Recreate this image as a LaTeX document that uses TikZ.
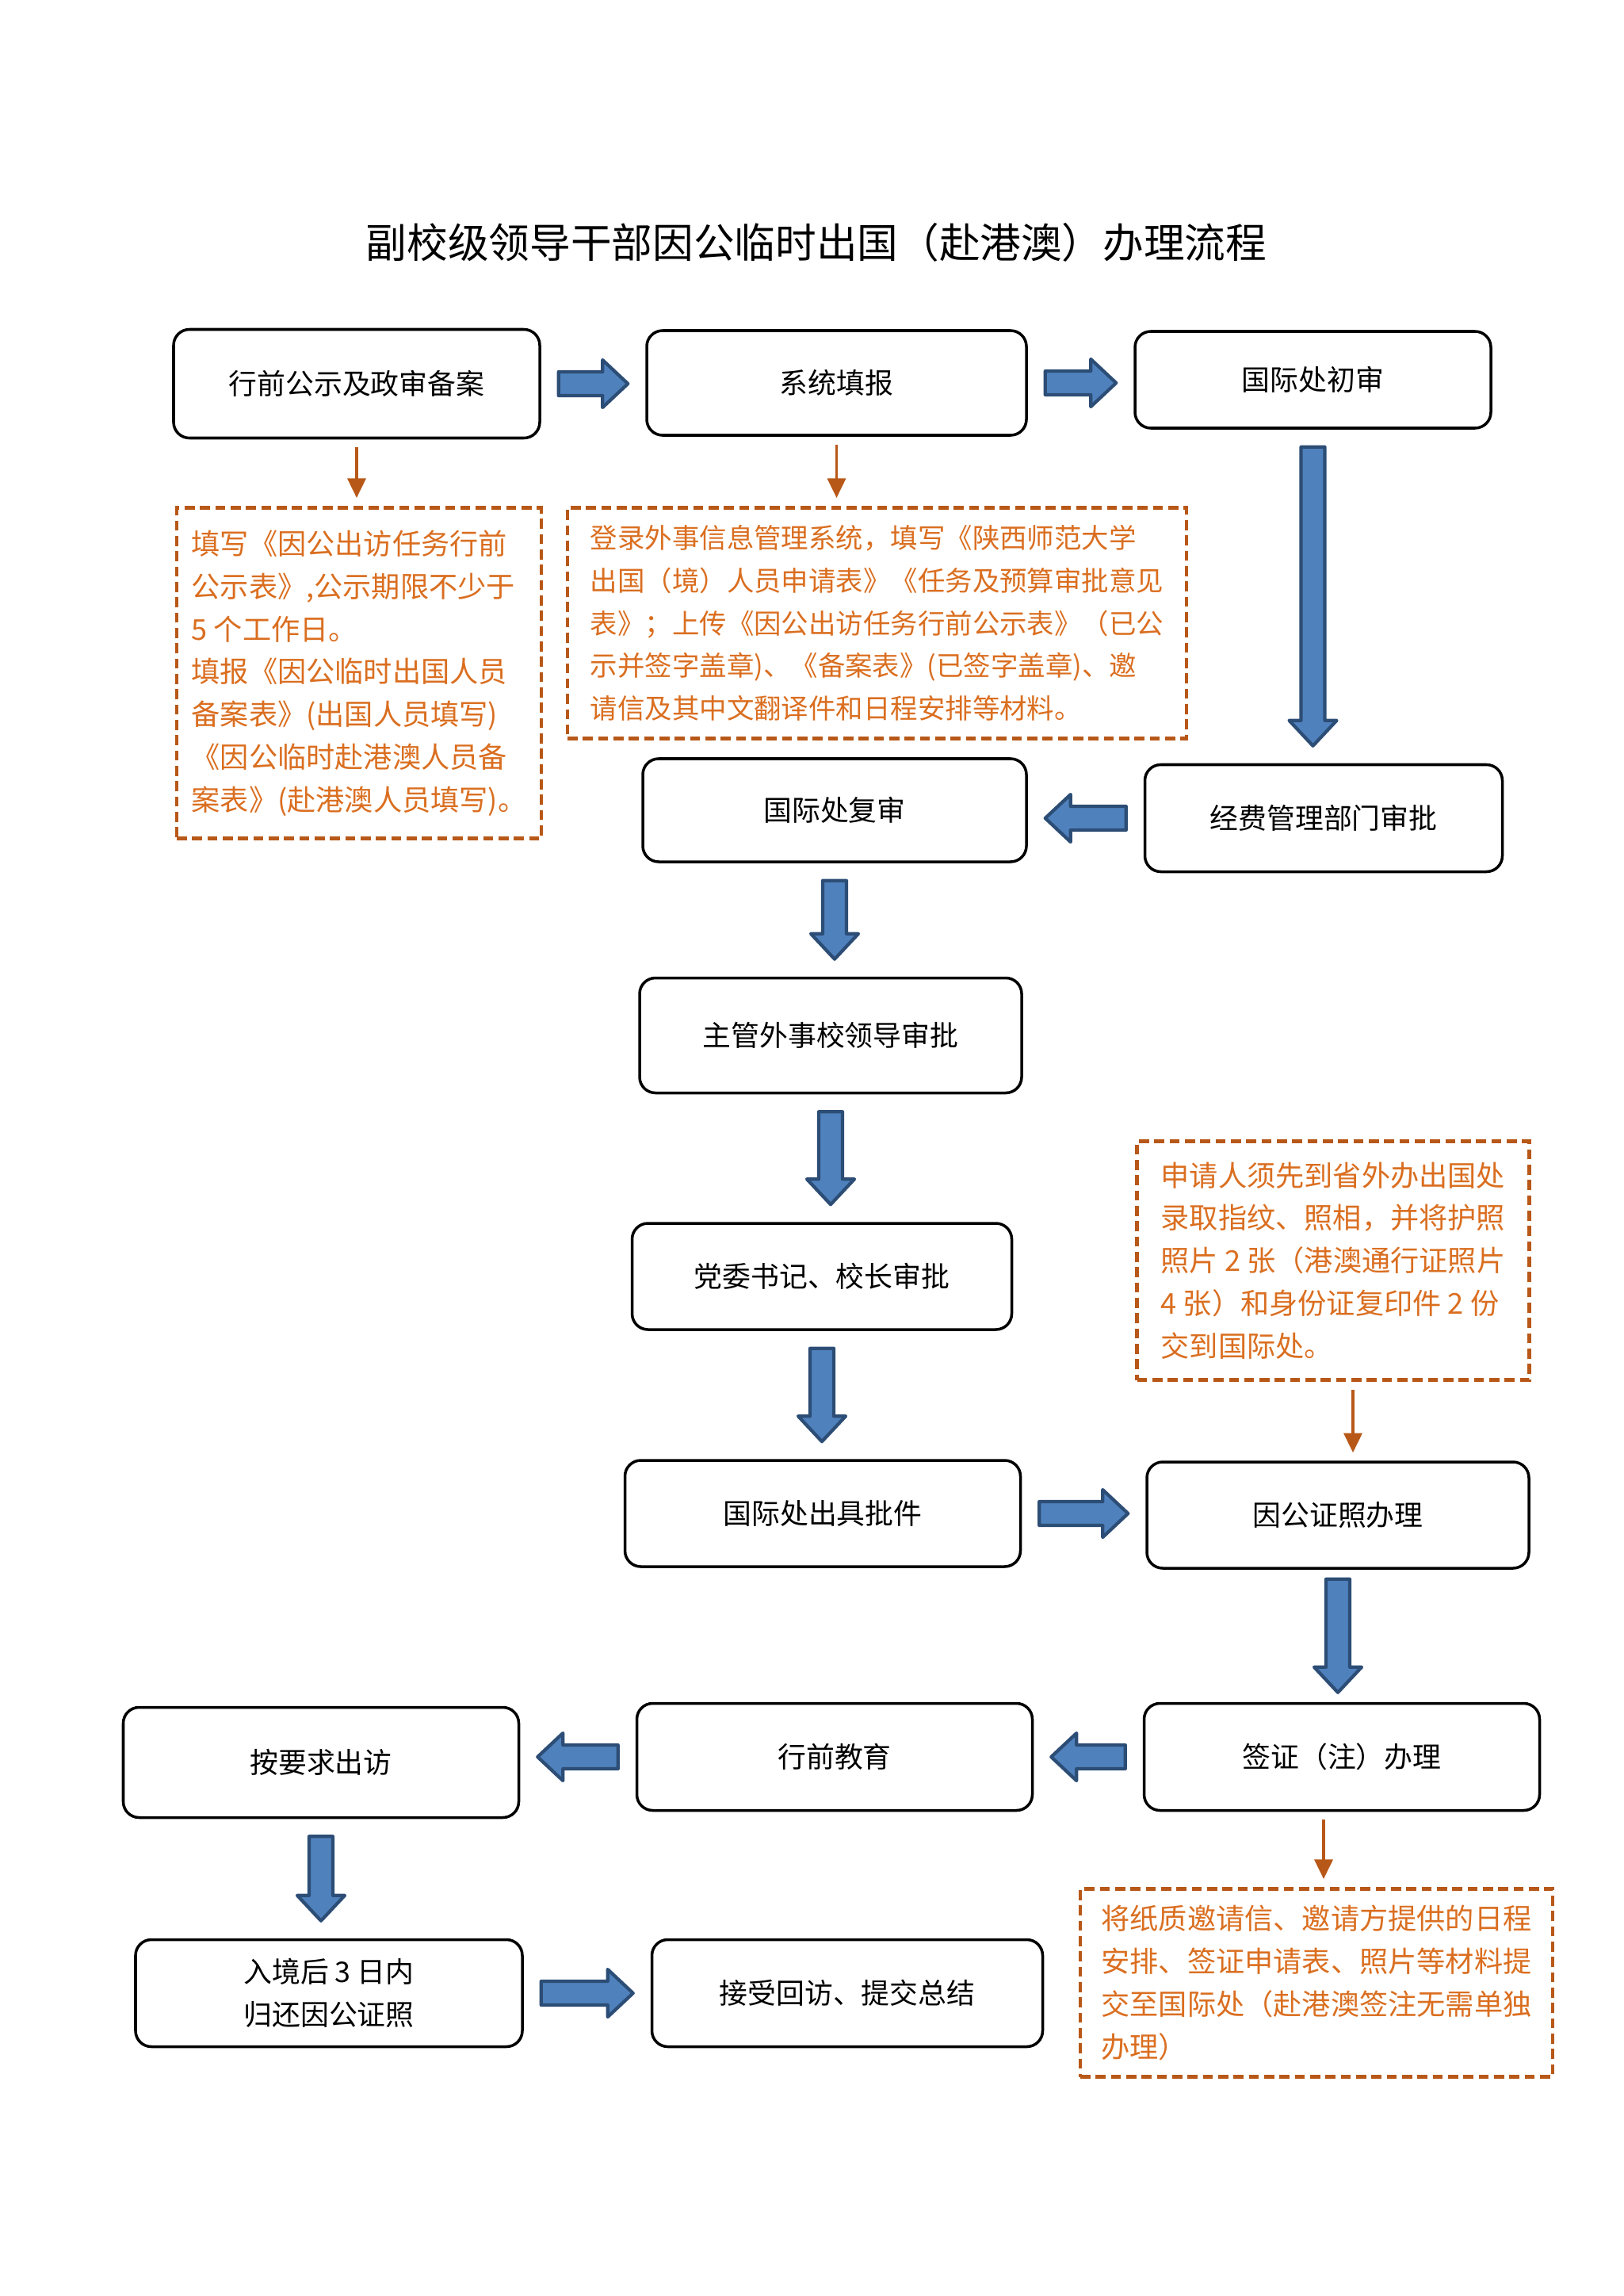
\documentclass[tikz,border=0pt]{standalone}
\usepackage{fontspec}
\setmainfont{Noto Sans CJK SC}
\usetikzlibrary{calc,arrows.meta}

\definecolor{arrowfill}{RGB}{79,129,189}
\definecolor{arrowline}{RGB}{44,77,117}
\definecolor{notetext}{RGB}{218,110,32}
\definecolor{noteline}{RGB}{184,88,24}

\newcommand{\bigarrow}[3][2.2mm]{%
  \coordinate (ba a) at #2;
  \coordinate (ba z) at #3;
  \coordinate (ba s) at ($(ba a)!#1!(ba z)$);
  \coordinate (ba e) at ($(ba z)!#1!(ba a)$);
  \coordinate (ba b) at ($(ba e)!3.2mm!(ba s)$);
  \draw [blockarrow] ($(ba s)!1.5mm!90:(ba e)$) -- ($(ba b)!1.5mm!90:(ba e)$)
    -- ($(ba b)!3mm!90:(ba e)$) -- (ba e) -- ($(ba b)!3mm!-90:(ba e)$)
    -- ($(ba b)!1.5mm!-90:(ba e)$) -- ($(ba s)!1.5mm!-90:(ba e)$) -- cycle;
}

\begin{document}
\begin{tikzpicture}
\tikzstyle{every node}+=[inner sep=0pt]
\tikzstyle{box}=[draw=black, line width=1pt, rounded corners=0.2cm, align=center, font=\fontsize{10.2}{15.3}\selectfont]
\tikzstyle{note}=[draw=noteline, line width=1.4pt, dash pattern=on 3.6pt off 1.9pt, text=notetext, align=left, font=\fontsize{10.3}{15.3}\selectfont]
\tikzstyle{blockarrow}=[fill=arrowfill, draw=arrowline, line width=1.2pt, line join=round]
\tikzstyle{notearrow}=[draw=noteline, line width=1.1pt, -{Triangle[length=7pt,width=6.5pt]}, shorten <=1mm, shorten >=1mm]
\useasboundingbox (0,0) rectangle (20.48,-28.96);

\node [font=\fontsize{14.7}{18}\selectfont] (title) at (10.30,-3.06) {副校级领导干部因公临时出国（赴港澳）办理流程};

\node [box, minimum width=4.62cm, minimum height=1.37cm] (gongshi) at (4.50,-4.84) {行前公示及政审备案};
\node [box, minimum width=4.79cm, minimum height=1.32cm] (tianbao) at (10.555,-4.83) {系统填报};
\node [box, minimum width=4.49cm, minimum height=1.22cm] (chushen) at (16.565,-4.79) {国际处初审};
\node [box, minimum width=4.84cm, minimum height=1.30cm] (fushen) at (10.53,-10.22) {国际处复审};
\node [box, minimum width=4.51cm, minimum height=1.35cm] (jingfei) at (16.70,-10.32) {经费管理部门审批};
\node [box, minimum width=4.82cm, minimum height=1.45cm] (lingdao) at (10.48,-13.06) {主管外事校领导审批};
\node [box, minimum width=4.79cm, minimum height=1.34cm] (shuji) at (10.37,-16.10) {党委书记、校长审批};
\node [box, minimum width=4.99cm, minimum height=1.34cm] (pijian) at (10.38,-19.09) {国际处出具批件};
\node [box, minimum width=4.82cm, minimum height=1.34cm] (zhengzhao) at (16.88,-19.11) {因公证照办理};
\node [box, minimum width=4.99cm, minimum height=1.35cm] (qianzhu) at (16.93,-22.16) {签证（注）办理};
\node [box, minimum width=4.99cm, minimum height=1.35cm] (jiaoyu) at (10.53,-22.16) {行前教育};
\node [box, minimum width=4.99cm, minimum height=1.39cm] (chufang) at (4.05,-22.23) {按要求出访};
\node [box, minimum width=4.88cm, minimum height=1.35cm] (guihuan) at (4.15,-25.14) {入境后 3 日内\\归还因公证照};
\node [box, minimum width=4.93cm, minimum height=1.35cm] (huifang) at (10.69,-25.14) {接受回访、提交总结};

\node [note, minimum width=4.60cm, minimum height=4.17cm] (ngongshi) at (4.53,-8.49) {填写《因公出访任务行前\\公示表》,公示期限不少于\\5 个工作日。\\填报《因公临时出国人员\\备案表》(出国人员填写)\\ 《因公临时赴港澳人员备\\案表》(赴港澳人员填写)。};
\node [note, minimum width=7.81cm, minimum height=2.91cm, font=\fontsize{9.8}{15.3}\selectfont] (ntianbao) at (11.065,-7.86) {登录外事信息管理系统，填写《陕西师范大学\\出国（境）人员申请表》《任务及预算审批意见\\表》；上传《因公出访任务行前公示表》（已公\\示并签字盖章)、《备案表》(已签字盖章)、邀\\请信及其中文翻译件和日程安排等材料。};
\node [note, minimum width=4.95cm, minimum height=3.01cm] (nzhengzhao) at (16.82,-15.90) {申请人须先到省外办出国处\\录取指纹、照相，并将护照\\照片 2 张（港澳通行证照片\\4 张）和身份证复印件 2 份\\交到国际处。};
\node [note, minimum width=5.96cm, minimum height=2.37cm] (nqianzhu) at (16.61,-25.01) {将纸质邀请信、邀请方提供的日程\\安排、签证申请表、照片等材料提\\交至国际处（赴港澳签注无需单独\\办理）};

\bigarrow{(gongshi.east)}{(gongshi.east -| tianbao.west)}
\bigarrow{(tianbao.east)}{(tianbao.east -| chushen.west)}
\bigarrow{(chushen.south)}{(chushen.south |- jingfei.north)}
\bigarrow{(jingfei.west)}{(jingfei.west -| fushen.east)}
\bigarrow{(fushen.south)}{(fushen.south |- lingdao.north)}
\bigarrow{(lingdao.south)}{(lingdao.south |- shuji.north)}
\bigarrow{(shuji.south)}{(shuji.south |- pijian.north)}
\bigarrow{(pijian.east)}{(pijian.east -| zhengzhao.west)}
\bigarrow[1.2mm]{(zhengzhao.south)}{(zhengzhao.south |- qianzhu.north)}
\bigarrow{(qianzhu.west)}{(qianzhu.west -| jiaoyu.east)}
\bigarrow{(jiaoyu.west)}{(jiaoyu.west -| chufang.east)}
\bigarrow{(chufang.south)}{(chufang.south |- guihuan.north)}
\bigarrow{(guihuan.east)}{(guihuan.east -| huifang.west)}

\coordinate (zzout) at ([xshift=2.5mm]nzhengzhao.south);
\coordinate (qzout) at ([xshift=-2.3mm]qianzhu.south);
\draw [notearrow] (gongshi.south) -- (gongshi.south |- ngongshi.north);
\draw [notearrow] (tianbao.south) -- (tianbao.south |- ntianbao.north);
\draw [notearrow] (zzout) -- (zzout |- zhengzhao.north);
\draw [notearrow] (qzout) -- (qzout |- nqianzhu.north);
\end{tikzpicture}
\end{document}
